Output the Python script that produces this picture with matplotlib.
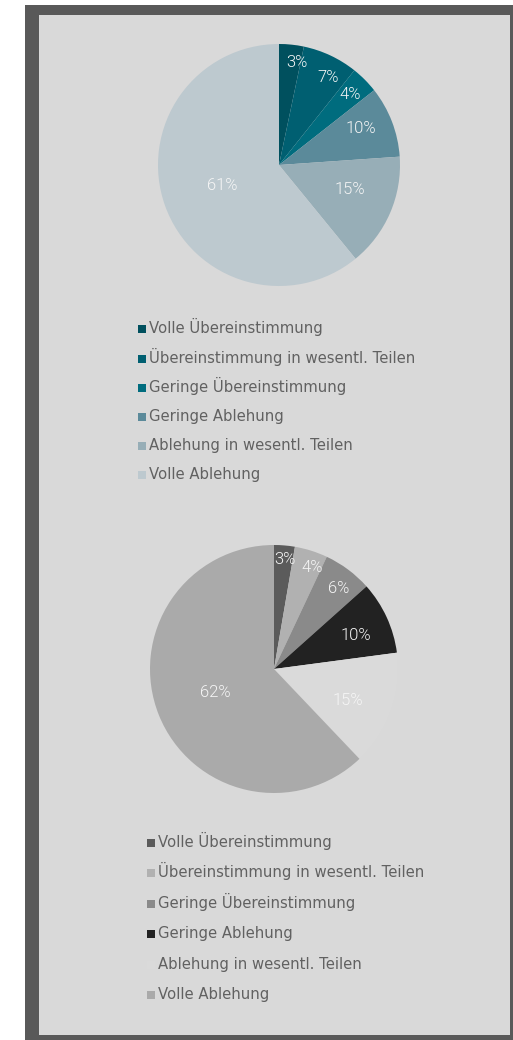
import matplotlib
matplotlib.use("Agg")
import matplotlib.pyplot as plt
from matplotlib.patches import Rectangle
import numpy as np

# ---- data ----
categories = ["Volle Übereinstimmung", "Übereinstimmung in wesentl. Teilen",
              "Geringe Übereinstimmung", "Geringe Ablehung",
              "Ablehung in wesentl. Teilen", "Volle Ablehung"]
values_top = [3.3, 7.4, 3.7, 9.5, 15.2, 60.9]
labels_top = ["3%", "7%", "4%", "10%", "15%", "61%"]
values_bottom = [2.7, 4.3, 6.4, 9.5, 15.0, 62.1]
labels_bottom = ["3%", "4%", "6%", "10%", "15%", "62%"]

# ---- styles ----
colors_top = ["#00505e", "#005f71", "#006c7e", "#5b8a9a", "#97aeb7", "#bdc9cf"]
colors_bottom = ["#5b5b5b", "#b1b1b1", "#8a8a8a", "#222222", "#dadada", "#aaaaaa"]
label_dist_top = [0.86, 0.83, 0.83, 0.74, 0.62, 0.50]
label_shift_top = [4, 4, 0, -3, -4, 0]          # degrees, clockwise
label_dist_bottom = [0.89, 0.87, 0.83, 0.71, 0.65, 0.51]
label_shift_bottom = [1, 3, 2, 2.5, 3.5, 0]

W, H = 513, 1040
fig = plt.figure(figsize=(W / 100, H / 100), dpi=100, facecolor="white")
LEG_FONT = ["DejaVu Sans"]
PCT_FONT = ["Roboto", "DejaVu Sans"]


def fx(px):
    return px / W


def fy(py):
    return 1 - py / H


# frame and panel
fig.patches.append(Rectangle((fx(25), fy(1040)), fx(513) - fx(25), fy(5) - fy(1040),
                             transform=fig.transFigure, facecolor="#595959",
                             edgecolor="none", zorder=-3))
fig.patches.append(Rectangle((fx(39), fy(1035)), fx(510) - fx(39), fy(15) - fy(1035),
                             transform=fig.transFigure, facecolor="#d9d9d9",
                             edgecolor="none", zorder=-2))


def draw_pie(cx, cy, r, values, labels, colors, dists, shifts):
    ax = fig.add_axes([fx(cx - r), fy(cy + r), fx(2 * r), (2 * r) / H])
    ax.set_facecolor("none")
    wedges, _ = ax.pie(values, colors=colors, startangle=90, counterclock=False,
                       radius=1.0, wedgeprops=dict(edgecolor="none", linewidth=0))
    for w, lab, d, s in zip(wedges, labels, dists, shifts):
        ang = np.deg2rad((w.theta1 + w.theta2) / 2 - s)
        ax.text(d * np.cos(ang), d * np.sin(ang), lab, ha="center", va="center",
                color="#f6f6f6", fontsize=12, fontweight=300, family=PCT_FONT)
    ax.set_xlim(-1, 1)
    ax.set_ylim(-1, 1)
    ax.set_aspect("equal")
    ax.axis("off")


def draw_legend(sq_x, text_x, base0, dy, colors):
    for i, (cat, c) in enumerate(zip(categories, colors)):
        b = base0 + i * dy
        fig.patches.append(Rectangle((fx(sq_x), fy(b)), 8 / W, 8 / H,
                                     transform=fig.transFigure, facecolor=c,
                                     edgecolor="none", zorder=2))
        fig.text(fx(text_x), fy(b), cat, ha="left", va="baseline",
                 color="#616161", fontsize=10.7, family=LEG_FONT)


draw_pie(279, 165, 121, values_top, labels_top, colors_top, label_dist_top, label_shift_top)
draw_legend(138, 149, 333.3, 29.2, colors_top)
draw_pie(274, 669, 124, values_bottom, labels_bottom, colors_bottom, label_dist_bottom,
         label_shift_bottom)
draw_legend(147, 158, 847, 30.4, colors_bottom)

fig.savefig("out.png", dpi=100, facecolor=fig.get_facecolor())
